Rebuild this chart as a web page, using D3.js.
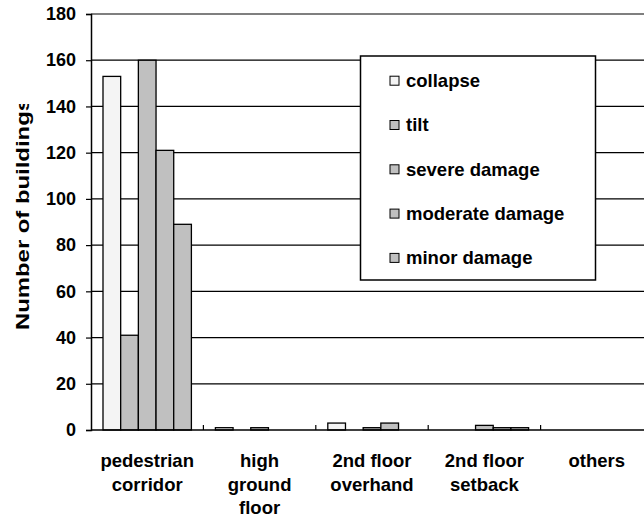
<!DOCTYPE html>
<html>
<head>
<meta charset="utf-8">
<script src="https://cdn.jsdelivr.net/npm/d3@7"></script>
<style>
  body { margin: 0; background: #fff; }
  svg { display: block; font-family: Arial, "Liberation Sans", sans-serif; font-weight: bold; }
</style>
</head>
<body>
<svg id="svg" width="644" height="519"></svg>
<script>
// chart values
var categories = ['pedestrian corridor', 'high ground floor', '2nd floor overhand', '2nd floor setback', 'others'];
var categoryLines = [['pedestrian', 'corridor'], ['high', 'ground', 'floor'], ['2nd floor', 'overhand'], ['2nd floor', 'setback'], ['others']];
var seriesNames = ['collapse', 'tilt', 'severe damage', 'moderate damage', 'minor damage'];
var collapse = [153, 1, 3, 0, 0];
var tilt = [41, 0, 0, 0, 0];
var severe = [160, 1, 1, 2, 0];
var moderate = [121, 0, 3, 1, 0];
var minor = [89, 0, 0, 1, 0];
var yTicks = [0, 20, 40, 60, 80, 100, 120, 140, 160, 180];

var seriesValues = [collapse, tilt, severe, moderate, minor];
var seriesFill = ['#f4f4f4', '#c0c0c0', '#c0c0c0', '#c0c0c0', '#c0c0c0'];

var svg, margin;

document.addEventListener('DOMContentLoaded', function () {
  svg = d3.select('#svg');
  margin = { top: 14, left: 91, bottom: 430, right: 653 };
  drawChart();
});

function drawChart() {
  var xScale = d3.scaleBand()
    .domain(categories)
    .range([margin.left, margin.right])
    .padding(0);

  var inner = d3.scaleBand()
    .domain(seriesNames)
    .range([12, xScale.bandwidth() - 12])
    .padding(0);

  var yScale = d3.scaleLinear()
    .domain([0, 180])
    .range([margin.bottom, margin.top]);

  // gridlines
  svg.append('g').selectAll('line')
    .data(yTicks.filter(d => d > 0))
    .join('line')
    .attr('x1', margin.left).attr('x2', margin.right)
    .attr('y1', d => yScale(d)).attr('y2', d => yScale(d))
    .attr('stroke', '#000').attr('stroke-width', 1.2);

  // bars
  var rows = [];
  seriesNames.forEach((s, i) => {
    categories.forEach((c, j) => {
      rows.push({ series: s, cat: c, value: seriesValues[i][j], fill: seriesFill[i] });
    });
  });

  svg.append('g').selectAll('rect')
    .data(rows.filter(d => d.value > 0))
    .join('rect')
    .attr('x', d => xScale(d.cat) + inner(d.series))
    .attr('width', inner.bandwidth())
    .attr('y', d => yScale(d.value))
    .attr('height', d => yScale(0) - yScale(d.value))
    .attr('fill', d => d.fill)
    .attr('stroke', '#000')
    .attr('stroke-width', 1.3);

  // y axis
  var yAxis = d3.axisLeft(yScale).tickValues(yTicks).tickSize(5).tickPadding(10);
  var gy = svg.append('g')
    .attr('transform', 'translate(' + margin.left + ',0)')
    .call(yAxis);
  gy.select('.domain').attr('stroke-width', 1.5);
  gy.selectAll('.tick line').attr('stroke-width', 1.2);
  gy.selectAll('text')
    .style('font-size', '18px')
    .style('font-weight', 'bold')
    .style('font-family', 'Arial, "Liberation Sans", sans-serif')
    .attr('fill', '#000');

  // x axis line and category ticks pointing inward
  svg.append('line')
    .attr('x1', margin.left).attr('x2', margin.right)
    .attr('y1', yScale(0)).attr('y2', yScale(0))
    .attr('stroke', '#000').attr('stroke-width', 1.5);

  svg.append('g').selectAll('line')
    .data(categories.slice(1))
    .join('line')
    .attr('x1', d => xScale(d)).attr('x2', d => xScale(d))
    .attr('y1', yScale(0)).attr('y2', yScale(0) - 5)
    .attr('stroke', '#000').attr('stroke-width', 1.2);

  // category labels
  var labels = svg.append('g').selectAll('text')
    .data(categories)
    .join('text')
    .attr('x', d => xScale(d) + xScale.bandwidth() / 2)
    .attr('y', 467)
    .attr('text-anchor', 'middle')
    .style('font-size', '18.5px');

  labels.selectAll('tspan')
    .data((d, i) => categoryLines[i])
    .join('tspan')
    .attr('x', function () { return d3.select(this.parentNode).attr('x'); })
    .attr('dy', (d, i) => i === 0 ? 0 : 23.5)
    .text(d => d);

  // y axis title, clipped at the top like the original
  svg.append('clipPath').attr('id', 'titleClip')
    .append('rect').attr('x', 0).attr('y', 104).attr('width', 60).attr('height', 300);

  svg.append('g')
    .attr('clip-path', 'url(#titleClip)')
    .append('text')
    .attr('transform', 'translate(29,214) rotate(-90)')
    .attr('text-anchor', 'middle')
    .attr('textLength', 232)
    .attr('lengthAdjust', 'spacingAndGlyphs')
    .style('font-size', '18.5px')
    .text('Number of buildings');

  // legend
  var legend = svg.append('g').attr('class', 'legend');
  legend.append('rect')
    .attr('x', 360.5).attr('y', 56)
    .attr('width', 235).attr('height', 224)
    .attr('fill', '#fff')
    .attr('stroke', '#000').attr('stroke-width', 1.5);

  var items = legend.selectAll('.item')
    .data(seriesNames)
    .join('g')
    .attr('class', 'item')
    .attr('transform', (d, i) => 'translate(390,' + (80.7 + i * 44.3) + ')');

  items.append('rect')
    .attr('x', 0).attr('y', -4.5)
    .attr('width', 9).attr('height', 9)
    .attr('fill', (d, i) => seriesFill[i])
    .attr('stroke', '#000').attr('stroke-width', 1);

  items.append('text')
    .attr('x', 16).attr('y', 0)
    .attr('dy', '0.35em')
    .style('font-size', '18.5px')
    .text(d => d);
}
</script>
</body>
</html>
